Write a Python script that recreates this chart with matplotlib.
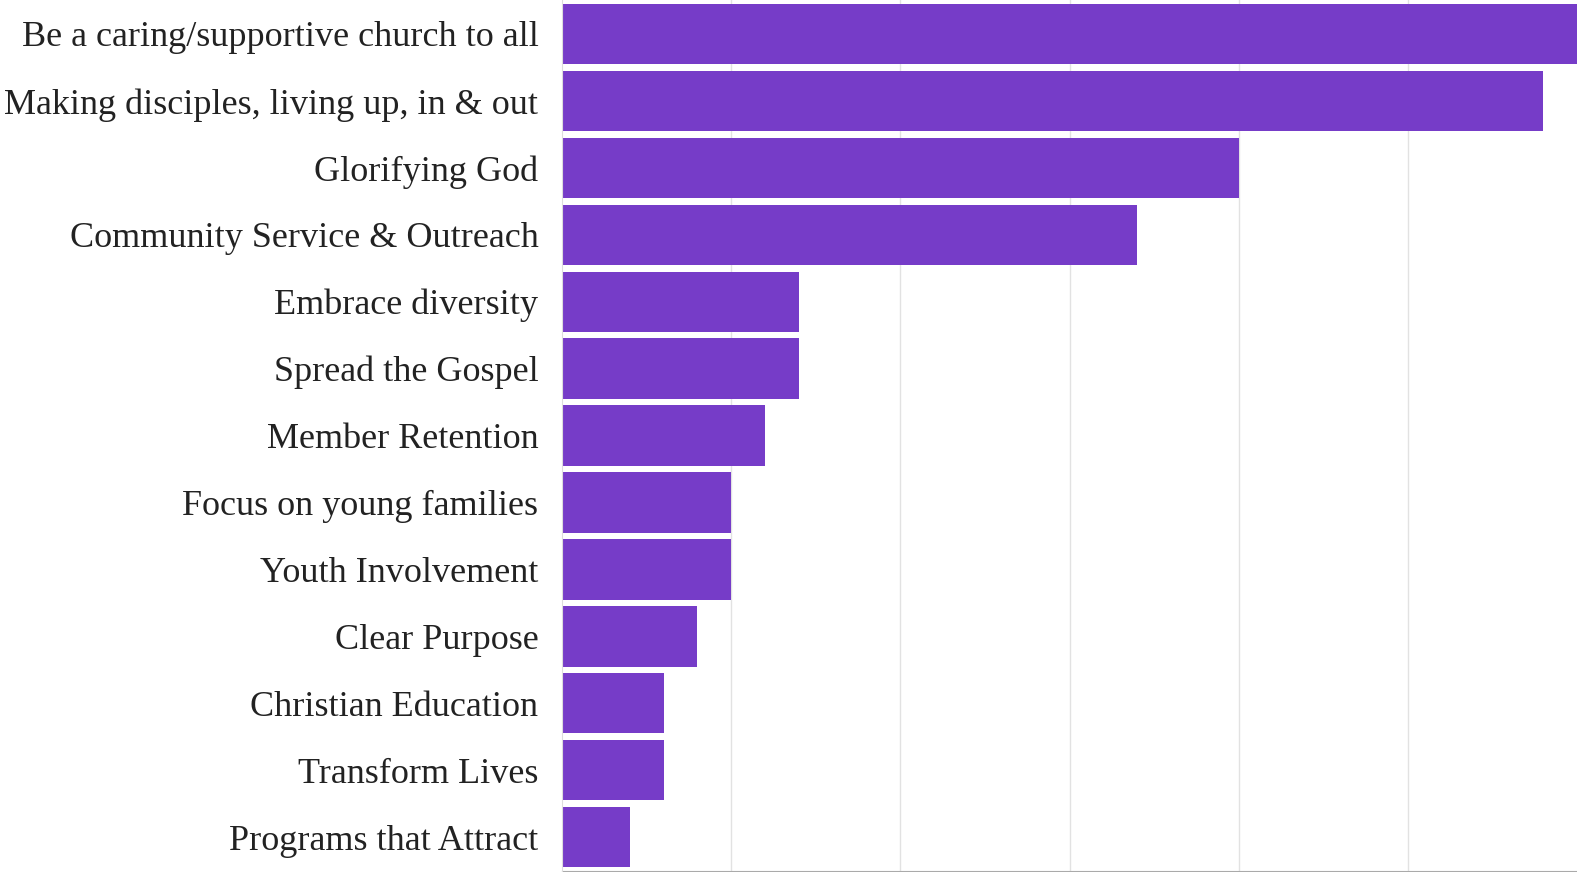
import matplotlib
matplotlib.use("Agg")
import matplotlib.pyplot as plt

categories = [
    "Be a caring/supportive church to all",
    "Making disciples, living up, in & out",
    "Glorifying God",
    "Community Service & Outreach",
    "Embrace diversity",
    "Spread the Gospel",
    "Member Retention",
    "Focus on young families",
    "Youth Involvement",
    "Clear Purpose",
    "Christian Education",
    "Transform Lives",
    "Programs that Attract",
]
values = [30, 29, 20, 17, 7, 7, 6, 5, 5, 4, 3, 3, 2]

fig = plt.figure(figsize=(15.77, 8.72), dpi=100)
ax = fig.add_axes([562/1577, 0.0015, 1 - 562/1577, 0.998])

y = list(range(len(categories)))
ax.barh(y, values, height=0.9, color="#763cc8", zorder=3)
ax.set_yticks(y)
ax.set_yticklabels(categories, family="Liberation Serif", fontsize=26, color="#222222")
ax.set_ylim(len(categories) - 0.5, -0.5)
ax.set_xlim(0, 30)
ax.set_xticks([5, 10, 15, 20, 25])
ax.set_xticklabels([])
ax.grid(axis="x", color="#e2e2e2", linewidth=1, zorder=0)
ax.tick_params(axis="y", length=0, pad=17)
ax.tick_params(axis="x", length=0)
for s in ["top", "right"]:
    ax.spines[s].set_visible(False)
ax.spines["left"].set_color("#dddddd")
ax.spines["bottom"].set_color("#aaaaaa")
ax.spines["left"].set_zorder(4)

fig.savefig("out.png", dpi=100)
